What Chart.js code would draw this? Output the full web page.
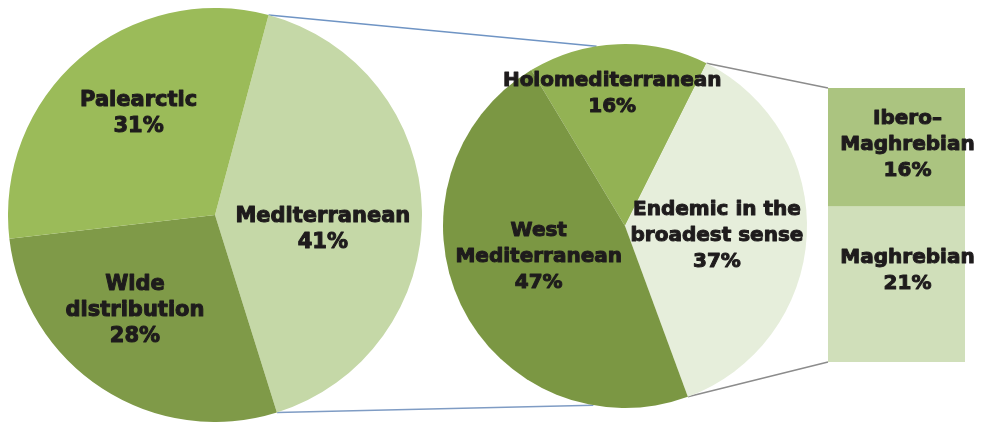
<!DOCTYPE html>
<html>
<head>
<meta charset="utf-8">
<script src="https://cdn.jsdelivr.net/npm/chart.js@4.4.1/dist/chart.umd.min.js"></script>
<style>
  html, body { margin: 0; padding: 0; background: #fff; }
  #wrap { position: relative; width: 986px; height: 424px; overflow: hidden; }
  canvas { position: absolute; }
</style>
</head>
<body>
<div id="wrap">
  <canvas id="links" width="986" height="424" style="left:0;top:0"></canvas>
  <canvas id="pie-main" width="414" height="414" style="left:8px;top:8px"></canvas>
  <canvas id="pie-med" width="384" height="384" style="left:433px;top:34px"></canvas>
  <canvas id="bar-end" width="168" height="274" style="left:818px;top:88px"></canvas>
</div>
<script>
// data
var mainLabels = [['Mediterranean'], ['Wide', 'distribution'], ['Palearctic']];
var mainValues = [41, 28, 31];
var mainColors = ['#c5d8a7', '#7f9a48', '#9bbb59'];

var medLabels = [['Holomediterranean'], ['Endemic in the', 'broadest sense'], ['West', 'Mediterranean']];
var medValues = [16, 37, 47];
var medColors = ['#93b254', '#e6eedb', '#7b9743'];

var endemicLabels = [['Maghrebian'], ['Ibero\u2013', 'Maghrebian']];
var endemicValues = [21, 16];
var endemicColors = ['#d0dfba', '#abc480'];

var TEXT = '#1e1b1c';

// draws the label lines + percentage on each slice / bar segment
var sliceLabels = {
    id: 'sliceLabels',
    afterDatasetsDraw: function(chart, args, opts) {
        var ctx = chart.ctx;
        ctx.save();
        ctx.fillStyle = TEXT;
        ctx.strokeStyle = TEXT;
        ctx.lineWidth = 1;
        ctx.lineJoin = 'round';
        ctx.font = 'bold ' + opts.size + 'px "DejaVu Sans"';
        ctx.textAlign = 'center';
        ctx.textBaseline = 'middle';
        chart.data.datasets.forEach(function(ds, di) {
            chart.getDatasetMeta(di).data.forEach(function(el, i) {
                var k = opts.perDataset ? di : i;
                var x, y;
                if (el.startAngle !== undefined) {
                    var mid = (el.startAngle + el.endAngle) / 2;
                    var rr = el.outerRadius * opts.factor;
                    x = el.x + rr * Math.cos(mid);
                    y = el.y + rr * Math.sin(mid);
                } else {
                    x = el.x;
                    y = (el.y + el.base) / 2;
                }
                x += opts.offsets[k][0];
                y += opts.offsets[k][1];
                var lines = opts.lines[k].concat([ds.data[i] + '%']);
                var top = y - (lines.length - 1) * opts.lineHeight / 2;
                lines.forEach(function(t, n) {
                    ctx.strokeText(t, x, top + n * opts.lineHeight);
                    ctx.fillText(t, x, top + n * opts.lineHeight);
                });
            });
        });
        ctx.restore();
    }
};

var mainChart = new Chart(document.getElementById('pie-main'), {
    type: 'pie',
    data: {
        labels: mainLabels.map(function(l) { return l.join(' '); }),
        datasets: [{ data: mainValues, backgroundColor: mainColors, borderWidth: 0 }]
    },
    options: {
        responsive: false,
        animation: false,
        rotation: 15,
        layout: { padding: 0 },
        plugins: {
            legend: { display: false },
            tooltip: { enabled: false },
            sliceLabels: {
                lines: mainLabels, size: 21, lineHeight: 26, factor: 0.55,
                offsets: [[-6, 17], [-18, 0], [-2, -15]]
            }
        }
    },
    plugins: [sliceLabels]
});

var medChart = new Chart(document.getElementById('pie-med'), {
    type: 'pie',
    data: {
        labels: medLabels.map(function(l) { return l.join(' '); }),
        datasets: [{ data: medValues, backgroundColor: medColors, borderWidth: 0 }]
    },
    options: {
        responsive: false,
        animation: false,
        rotation: -31,
        layout: { padding: 10 },
        plugins: {
            legend: { display: false },
            tooltip: { enabled: false },
            sliceLabels: {
                lines: medLabels, size: 20, lineHeight: 26, factor: 0.55,
                offsets: [[-9, -32], [-8, 4], [4, -12]]
            }
        }
    },
    plugins: [sliceLabels]
});

var barChart = new Chart(document.getElementById('bar-end'), {
    type: 'bar',
    data: {
        labels: ['Endemic'],
        datasets: endemicValues.map(function(v, i) {
            return {
                label: endemicLabels[i].join(' '),
                data: [v],
                backgroundColor: endemicColors[i],
                borderWidth: 0,
                barPercentage: 1,
                categoryPercentage: 1
            };
        })
    },
    options: {
        responsive: false,
        animation: false,
        layout: { padding: { left: 10, right: 21, top: 0, bottom: 0 } },
        scales: {
            x: { display: false, stacked: true },
            y: { display: false, stacked: true, min: 0, max: 37 }
        },
        plugins: {
            legend: { display: false },
            tooltip: { enabled: false },
            sliceLabels: {
                lines: endemicLabels, size: 20, lineHeight: 26, perDataset: true,
                offsets: [[11, -13], [11, -2]]
            }
        }
    },
    plugins: [sliceLabels]
});

// connector lines between the three parts
function pt(chart, x, y) {
    var c = chart.canvas;
    return [c.offsetLeft + x, c.offsetTop + y];
}
function rim(chart, el, a) {
    return pt(chart, el.x + el.outerRadius * Math.cos(a), el.y + el.outerRadius * Math.sin(a));
}
function line(ctx, p, q, color) {
    ctx.beginPath();
    ctx.strokeStyle = color;
    ctx.lineWidth = 1.5;
    ctx.moveTo(p[0], p[1]);
    ctx.lineTo(q[0], q[1]);
    ctx.stroke();
}

var lctx = document.getElementById('links').getContext('2d');
var medSlice = mainChart.getDatasetMeta(0).data[0];
var medPie = medChart.getDatasetMeta(0).data[0];
var deg = Math.PI / 180;
line(lctx, rim(mainChart, medSlice, medSlice.startAngle), rim(medChart, medPie, -90 * deg - 9 * deg), '#6f94c4');
line(lctx, rim(mainChart, medSlice, medSlice.endAngle), rim(medChart, medPie, -90 * deg + 190 * deg), '#7f9cc4');

var endSlice = medChart.getDatasetMeta(0).data[1];
var topSeg = barChart.getDatasetMeta(1).data[0];
var botSeg = barChart.getDatasetMeta(0).data[0];
line(lctx, rim(medChart, endSlice, endSlice.startAngle), pt(barChart, topSeg.x - topSeg.width / 2, topSeg.y), '#8c8c8c');
line(lctx, rim(medChart, endSlice, endSlice.endAngle), pt(barChart, botSeg.x - botSeg.width / 2, botSeg.base), '#8c8c8c');
</script>
</body>
</html>
